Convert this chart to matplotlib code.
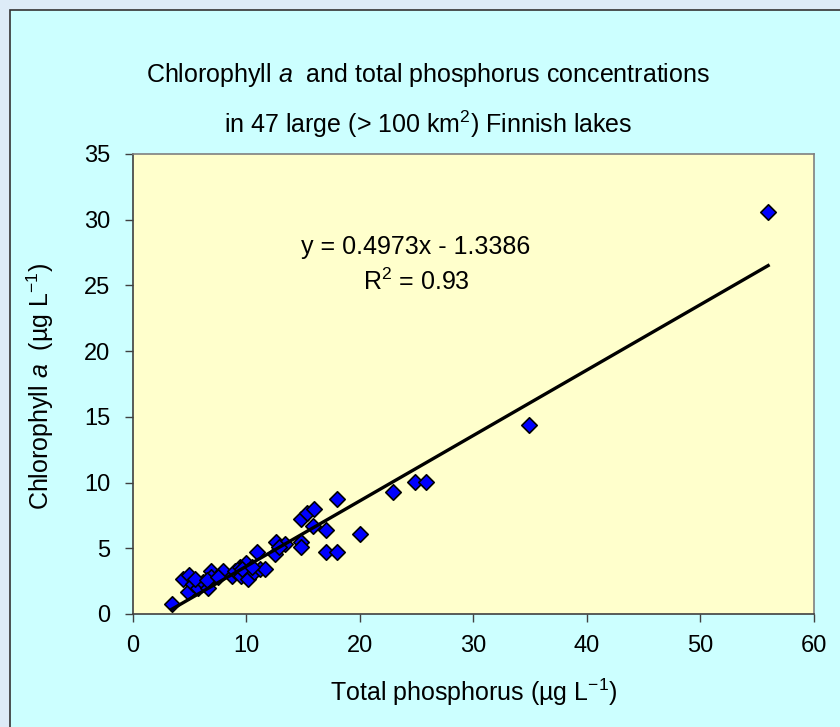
import matplotlib
matplotlib.use("Agg")
import matplotlib.pyplot as plt
from matplotlib.patches import Rectangle
import numpy as np

plt.rcParams['font.family'] = ['Liberation Sans', 'DejaVu Sans']
plt.rcParams['mathtext.fontset'] = 'custom'
plt.rcParams['mathtext.rm'] = 'Liberation Sans'
plt.rcParams['mathtext.it'] = 'Liberation Sans:italic'
plt.rcParams['mathtext.default'] = 'regular'

# Total phosphorus (µg/L) and chlorophyll a (µg/L) for 47 lakes
total_p = [3.4, 4.4, 4.9, 4.85, 5.3, 5.7, 6.2, 6.6, 6.9, 6.9,
           7.9, 8.7, 9.0, 9.4, 9.55, 10.0, 10.1, 10.1, 10.9, 10.7,
           11.2, 11.6, 12.6, 12.5, 13.4, 12.9, 5.5, 6.5, 7.5, 9.6,
           10.5, 14.85, 15.3, 16.0, 15.9, 17.0, 14.85, 14.85, 17.0, 18.0,
           18.0, 20.0, 22.9, 24.9, 25.8, 34.9, 56.0]
chl_a = [0.76, 2.66, 3.0, 1.65, 2.3, 2.0, 2.4, 2.0, 3.3, 2.8,
         3.25, 2.9, 3.3, 3.55, 2.9, 3.9, 3.3, 2.66, 4.7, 3.2,
         3.4, 3.4, 5.45, 4.6, 5.3, 5.1, 2.7, 2.6, 2.8, 3.4,
         3.6, 7.2, 7.7, 8.0, 6.7, 6.4, 5.45, 5.1, 4.7, 8.75,
         4.7, 6.1, 9.26, 10.07, 10.07, 14.4, 30.6]

slope = 0.4973
intercept = -1.3386
r_squared = 0.93

x_ticks = [0, 10, 20, 30, 40, 50, 60]
y_ticks = [0, 5, 10, 15, 20, 25, 30, 35]

W, H = 840, 727
fig = plt.figure(figsize=(W / 100, H / 100), dpi=100)
fig.patch.set_facecolor('#DDEBF7')
# chart area box
fig.patches.append(Rectangle((10 / W, -0.01), 1.0, 1 - 10 / H + 0.01,
                             transform=fig.transFigure, facecolor='#CCFFFF',
                             edgecolor='#333333', linewidth=1.2, zorder=-5))

ax = fig.add_axes([133 / W, 1 - 614 / H, (813.5 - 133) / W, (614 - 154) / H])
ax.set_zorder(2)
ax.set_facecolor('#FFFFCC')
ax.set_xlim(0, 60)
ax.set_ylim(0, 35)
ax.set_xticks(x_ticks)
ax.set_yticks(y_ticks)
ax.tick_params(axis='both', direction='out', length=6, width=1.0,
               color='#404040', labelsize=17)
ax.tick_params(axis='y', pad=10.5)
ax.tick_params(axis='x', pad=9)
for s in ['left', 'bottom']:
    ax.spines[s].set_color('#404040')
    ax.spines[s].set_linewidth(1.2)
for s in ['top', 'right']:
    ax.spines[s].set_color('#808080')
    ax.spines[s].set_linewidth(1.2)

ax.scatter(total_p, chl_a, marker='D', s=62, facecolor='#0000FF',
           edgecolor='black', linewidth=1.2, zorder=3)

xl = np.array([min(total_p), max(total_p)])
ax.plot(xl, slope * xl + intercept, color='black', linewidth=2.4, zorder=4)

ax.text(416 / W, 1 - 247 / H, f"y = {slope}x - {abs(intercept)}", transform=fig.transFigure,
        ha='center', va='center', fontsize=18)
ax.text(416 / W, 1 - 282 / H, "R$^{2}$ = " + f"{r_squared:.2f}", transform=fig.transFigure,
        ha='center', va='center', fontsize=18)

ax.set_xlabel("Total phosphorus (µg L$^{-1}$)", fontsize=18)
ax.xaxis.label.set_va('center')
ax.xaxis.set_label_coords(474 / W, 1 - 692 / H, transform=fig.transFigure)
ax.set_ylabel("Chlorophyll $\\mathit{a}$  (µg L$^{-1}$)", fontsize=18)
ax.yaxis.label.set_va('center')
ax.yaxis.set_label_coords(40 / W, 1 - 386 / H, transform=fig.transFigure)

fig.text(428 / W, 1 - 75 / H, "Chlorophyll $\\mathit{a}$  and total phosphorus concentrations",
         ha='center', va='center', fontsize=18)
fig.text(428 / W, 1 - 124 / H, "in 47 large (> 100 km$^{2}$) Finnish lakes",
         ha='center', va='center', fontsize=18)

fig.savefig("out.png", dpi=100, facecolor=fig.get_facecolor())
